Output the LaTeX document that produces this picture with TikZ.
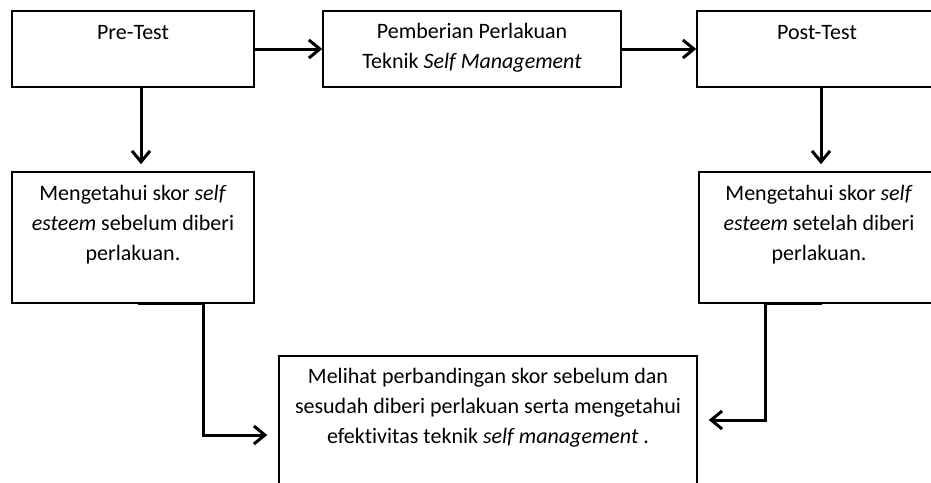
\documentclass[tikz,border=0pt]{standalone}
\usepackage{fontspec}
\setmainfont[Ligatures=NoCommon]{Carlito}
\usetikzlibrary{arrows.meta,calc}
\begin{document}
\begin{tikzpicture}[x=0.5pt,y=-0.5pt,
  box/.style={draw,line width=0.75pt,inner sep=0pt},
  txt/.style={inner sep=0pt,align=center,font=\fontsize{11}{15}\selectfont},
  arr/.style={line width=1.5pt,-{Straight Barb[length=5.5pt,width=9pt]}}]
\clip (0,0) rectangle (931,482);
% boxes
\node[box,minimum width=121pt,minimum height=38pt] (b1) at (133,49) {};
\node[box,minimum width=149pt,minimum height=38pt] (b2) at (472,49) {};
\node[box,minimum width=120pt,minimum height=38pt] (b3) at (817,49) {};
\node[box,minimum width=121pt,minimum height=65.5pt] (b4) at (133,237.5) {};
\node[box,minimum width=120pt,minimum height=65.5pt] (b5) at (819,237.5) {};
\node[box,minimum width=209pt,minimum height=72pt] (b6) at (488,428) {};
% texts
\node[txt] (t1) at ($(b1.north)+(0,22)$) {Pre-Test};
\node[txt] (t2) at ($(b2.north)+(0,37)$) {Pemberian Perlakuan\\Teknik \textit{Self Management}};
\node[txt] (t3) at ($(b3.north)+(0,22)$) {Post-Test};
\node[txt] (t4) at ($(b4.north)+(0,53)$) {Mengetahui skor \textit{self}\\\textit{esteem} sebelum diberi\\perlakuan.};
\node[txt] (t5) at ($(b5.north)+(0,53)$) {Mengetahui skor \textit{self}\\\textit{esteem} setelah diberi\\perlakuan.};
\node[txt] (t6) at ($(b6.north)+(0,52)$) {Melihat perbandingan skor sebelum dan\\sesudah diberi perlakuan serta mengetahui\\efektivitas teknik \textit{self management} .};
% connectors
\draw[arr] (b1) -- (b2);
\draw[arr] (b2) -- (b3);
\draw[arr] ([xshift=4pt]b1.south) -- ([xshift=4pt,yshift=3.5pt]b1.south |- b4.north);
\draw[arr] ([xshift=2pt]b3.south) -- ([xshift=2pt,yshift=3.5pt]b3.south |- b5.north);
\coordinate (lk) at (203,435);
\coordinate (rk) at (765,420);
\draw[arr] ([xshift=2.5pt]b4.south) -- (b4.south -| lk) -- (lk) -- ([xshift=-5.5pt]lk -| b6.west);
\draw[arr] ([xshift=1.5pt]b5.south) -- (b5.south -| rk) -- (rk) -- ([xshift=5.5pt]rk -| b6.east);
\end{tikzpicture}
\end{document}
